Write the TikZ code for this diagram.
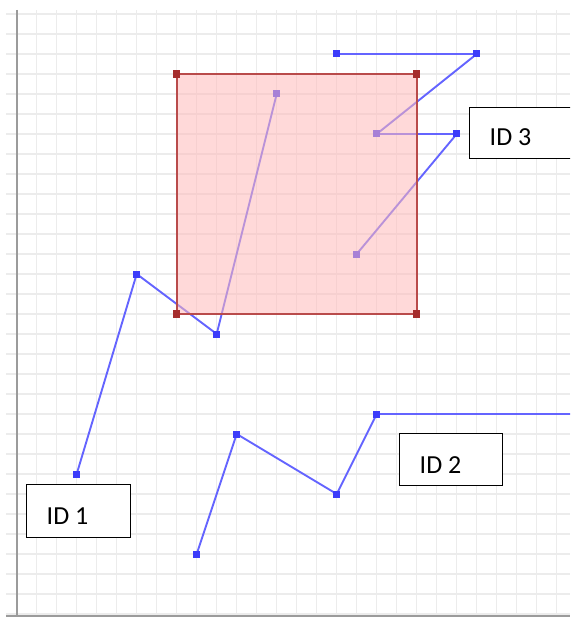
\documentclass[tikz,border=0pt]{standalone}
\usepackage{fontspec}
\setmainfont{Carlito}
\definecolor{gridc}{RGB}{236,236,236}
\definecolor{axisc}{RGB}{155,155,155}
\definecolor{linec}{RGB}{100,100,255}
\definecolor{markc}{RGB}{60,60,250}
\definecolor{sqborder}{RGB}{185,75,75}
\definecolor{sqmark}{RGB}{165,45,45}
\definecolor{sqfill}{RGB}{255,185,185}
\begin{document}
\begin{tikzpicture}[x=1pt,y=-1pt,
  pt/.style={rectangle,fill=markc,inner sep=0pt,minimum size=7pt},
  rpt/.style={rectangle,fill=sqmark,inner sep=0pt,minimum size=7.5pt},
  conn/.style={draw=linec,line width=1.9pt},
  idbox/.style={draw=black,fill=white,line width=1.4pt,rectangle,inner sep=0pt,anchor=north west},
  idtext/.style={anchor=base west,inner sep=0pt,font=\fontsize{26}{30}\selectfont}]
\useasboundingbox (0,0) rectangle (570,617);
\clip (0,0) rectangle (570,617);
% grid
\foreach \i in {1,...,28} {\draw[gridc,line width=1.4pt] (16.7+20*\i,10) -- (16.7+20*\i,617);}
\foreach \j in {0,...,30} {\draw[gridc,line width=1.4pt] (6,14+20*\j) -- (570,14+20*\j);}
% axes
\draw[axisc,line width=2pt] (16.7,10) -- (16.7,615.5);
\draw[axisc,line width=2pt] (6,615.5) -- (570,615.5);
% ID 1 points
\node[pt] (a1) at (76.7,474) {};
\node[pt] (a2) at (136.7,274) {};
\node[pt] (a3) at (216.7,334) {};
\node[pt] (a4) at (276.7,94) {};
% ID 2 points
\node[pt] (b1) at (196.7,554) {};
\node[pt] (b2) at (236.7,434) {};
\node[pt] (b3) at (336.7,494) {};
\node[pt] (b4) at (376.7,414) {};
\coordinate (b5) at (575,414);
% ID 3 points
\node[pt] (c1) at (356.7,254) {};
\node[pt] (c2) at (456.7,134) {};
\node[pt] (c3) at (376.7,134) {};
\node[pt] (c4) at (476.7,54) {};
\node[pt] (c5) at (336.7,54) {};
% polylines
\draw[conn] (a1.center) -- (a2.center) -- (a3.center) -- (a4.center);
\draw[conn] (b1.center) -- (b2.center) -- (b3.center) -- (b4.center) -- (b5);
\draw[conn] (c1.center) -- (c2.center) -- (c3.center) -- (c4.center) -- (c5.center);
% redraw markers on top of lines
\foreach \n in {a1,a2,a3,a4,b1,b2,b3,b4,c1,c2,c3,c4,c5} {\fill[markc] ([xshift=-3.5pt,yshift=-3.5pt]\n.center) rectangle ([xshift=3.5pt,yshift=3.5pt]\n.center);}
% red square
\coordinate (s1) at (176.7,74);
\coordinate (s2) at (416.7,74);
\coordinate (s3) at (416.7,314);
\coordinate (s4) at (176.7,314);
\fill[sqfill,opacity=0.55] (s1) rectangle (s3);
\draw[sqborder,line width=1.8pt] (s1) -- (s2) -- (s3) -- (s4) -- cycle;
\node[rpt] (r1) at (s1) {};
\node[rpt] (r2) at (s2) {};
\node[rpt] (r3) at (s3) {};
\node[rpt] (r4) at (s4) {};
% labels
\node[idbox,minimum width=104pt,minimum height=53pt] (box1) at (26,484) {};
\node[idtext] (t1) at (46.5,524) {ID 1};
\node[idbox,minimum width=103pt,minimum height=52pt] (box2) at (399,433) {};
\node[idtext] (t2) at (419.5,473) {ID 2};
\node[idbox,minimum width=130pt,minimum height=51pt] (box3) at (469,107) {};
\node[idtext] (t3) at (489.5,146) {ID 3};
\end{tikzpicture}
\end{document}
